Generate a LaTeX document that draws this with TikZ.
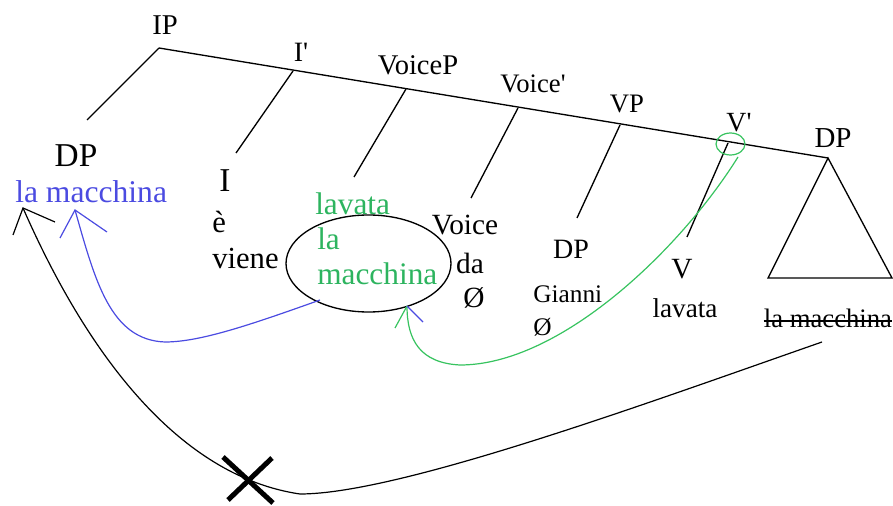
\documentclass[tikz,border=0pt]{standalone}
\usepackage{fontspec}
\setmainfont{Liberation Serif}[Ligatures=TeXOff]
\usetikzlibrary{shapes.geometric}
\definecolor{myblue}{RGB}{75,75,225}
\definecolor{mygreen}{RGB}{45,180,95}
\definecolor{mygreenline}{RGB}{55,195,95}
\tikzset{
  fs/.style={font=\fontsize{#1}{#1}\selectfont},
  lbl/.style={inner sep=0pt, anchor=base},
  lblw/.style={inner sep=0pt, anchor=base west},
  tree/.style={line width=1pt, black},
  mv/.style={line width=0.9pt},
}
\begin{document}
\begin{tikzpicture}[x=0.75pt,y=-0.75pt]
\useasboundingbox (0,0) rectangle (893,506);
% tree points
\coordinate (ip) at (159,48);
\coordinate (ibar) at (293,71);
\coordinate (voicep) at (406,89);
\coordinate (voicebar) at (518,108);
\coordinate (vp) at (620,125);
\coordinate (vbar) at (728,143);
\coordinate (dpr) at (828,158);
\coordinate (dplend) at (87,120);
\coordinate (iend) at (236,153);
\coordinate (voicepend) at (354,177);
\coordinate (voicebarend) at (471,198);
\coordinate (vpend) at (577,218);
\coordinate (vbarend) at (687,237);
\coordinate (trl) at (768,278);
\coordinate (trr) at (892,278);
\draw[tree] (ip) -- (dpr);
\draw[tree] (ip) -- (dplend);
\draw[tree] (ibar) -- (iend);
\draw[tree] (voicep) -- (voicepend);
\draw[tree] (voicebar) -- (voicebarend);
\draw[tree] (vp) -- (vpend);
\draw[tree] (vbar) -- (vbarend);
\draw[tree] (dpr) -- (trl) -- (trr) -- cycle;
% labels
\node[lbl,fs=21.5] (tIP) at (165,35) {IP};
\node[lbl,fs=21] (tIbar) at (301,62) {I'};
\node[lbl,fs=21.4] (tVoiceP) at (418,75) {VoiceP};
\node[lbl,fs=20] (tVoicebar) at (533,93) {Voice'};
\node[lbl,fs=20] (tVP) at (627,113) {VP};
\node[lbl,fs=20.8] (tVbar) at (739,132) {V'};
\node[lbl,fs=21.7] (tDPr) at (833,148) {DP};
\node[lbl,fs=25] (tDPl) at (76,167) {DP};
\node[lblw,fs=23.7,text=myblue] (tLMb) at (15,203) {la macchina};
\node[lbl,fs=25] (tI) at (225,192) {I};
\node[lblw,fs=23] (tE) at (212,233) {è};
\node[lblw,fs=23] (tViene) at (212,268) {viene};
\node[lblw,fs=23.5,text=mygreen] (gLav) at (315,215) {lavata};
\node[lblw,fs=23.5,text=mygreen] (gLa) at (317,250) {la};
\node[lblw,fs=23.5,text=mygreen] (gMac) at (317,285) {macchina};
\node[draw, ellipse, line width=1pt, inner sep=0pt, minimum width=123.75pt, minimum height=72.75pt] (ell) at (368.5,263.5) {};
\node[lbl,fs=22] (tVoice) at (465,235) {Voice};
\node[lbl,fs=22] (tDa) at (470,273) {da};
\node[lbl,fs=22] (tNull1) at (474,307) {Ø};
\node[lbl,fs=21] (tDPm) at (571,258) {DP};
\node[lblw,fs=19] (tGianni) at (533,302) {Gianni};
\node[lblw,fs=19] (tNull2) at (533,335) {Ø};
\node[lbl,fs=22] (tV) at (682,278) {V};
\node[lbl,fs=20.4] (tLavata) at (685,317) {lavata};
\node[lbl,fs=20] (tLMs) at (828,327) {la macchina};
\draw[line width=1pt] ([yshift=4.5pt]tLMs.base west) -- ([yshift=4.5pt]tLMs.base east);
% green circle around V'
\node[draw=mygreenline, ellipse, line width=0.9pt, inner sep=0pt, minimum width=21.75pt, minimum height=16.5pt] (vcirc) at (730.5,144) {};
% movement arrows
\coordinate (bstart) at (822,342);
\coordinate (bmid) at (300,494);
\coordinate (btip) at (23,208);
\draw[mv] (bstart) .. controls (650,402) and (400,494) .. (bmid) .. controls (150,472) and (60,292) .. (btip);
\draw[mv] (13,235) -- (btip) -- (55,222);
\coordinate (blstart) at (320,300);
\coordinate (blmid) at (165,342);
\coordinate (bltip) at (75,210);
\draw[mv,myblue] (blstart) .. controls (250,325) and (200,342) .. (blmid) .. controls (110,340) and (95,280) .. (bltip);
\draw[mv,myblue] (60,238) -- (bltip) -- (107,232);
\coordinate (gstart) at (738,157);
\coordinate (gmid) at (460,365);
\coordinate (gtip) at (407,306);
\draw[mv,mygreenline] (gstart) .. controls (680,250) and (560,365) .. (gmid) .. controls (420,363) and (407,340) .. (gtip);
\draw[mv,mygreenline] (395,328) -- (gtip);
\draw[mv,myblue] (gtip) -- (423,322);
% X mark
\draw[line width=3.75pt] (223,457) -- (273,503);
\draw[line width=3.75pt] (272,458) -- (228,500);
\end{tikzpicture}
\end{document}
